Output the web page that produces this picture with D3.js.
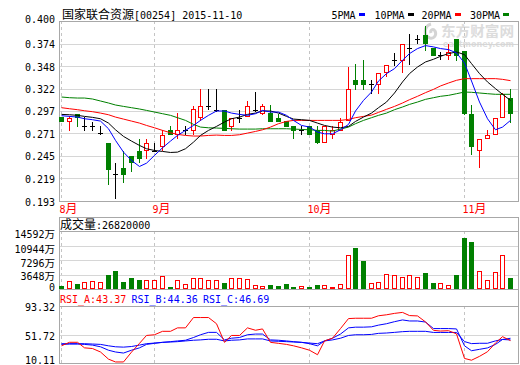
<!DOCTYPE html>
<html><head><meta charset="utf-8">
<script src="https://cdn.jsdelivr.net/npm/d3@7/dist/d3.min.js"></script>
<style>
html,body{margin:0;padding:0;background:#fff;}
svg{display:block;}
text{font-family:"DejaVu Sans Mono",monospace;font-size:10px;}
tspan.cjk{font-family:"Noto Sans CJK SC";font-size:12px;}
tspan.cjks{font-family:"Noto Sans CJK SC";font-size:10.5px;}
</style></head><body>
<svg id="chart" width="520" height="365"></svg>
<script>
// ---------------- data ----------------
const titleName = "国家联合资源[00254] 2015-11-10";
const monthIdx = [0, 12, 32, 52];
const monthLabels = ["8月", "9月", "10月", "11月"];

const open = [0.2894,0.2852,0.2929,0.2798,0.2798,0.2709,0.2599,0.2241,0.2314,0.2449,
0.2510,0.2518,0.2510,0.2564,0.2741,0.2698,0.2741,0.2749,0.2894,0.3025,
0.2980,0.2980,0.2795,0.2887,0.2902,0.2980,0.2940,0.2940,0.2887,0.2848,
0.2787,0.2749,0.2787,0.2741,0.2608,0.2702,0.2749,0.2864,0.3317,0.3317,
0.3279,0.3279,0.3413,0.3556,0.3556,0.3694,0.3798,0.3836,0.3694,0.3605,
0.3609,0.3790,0.3651,0.2933,0.2518,0.2656,0.2702,0.2894,0.3118];
const high = [0.2900,0.2910,0.2929,0.2894,0.2844,0.2798,0.2599,0.2372,0.2510,0.2449,
0.2645,0.2645,0.2599,0.2741,0.2798,0.2940,0.2787,0.3017,0.3221,0.3221,
0.3221,0.2980,0.2887,0.2980,0.3075,0.3182,0.3040,0.3029,0.2925,0.2848,
0.2787,0.2795,0.2787,0.2795,0.2795,0.2795,0.2887,0.3471,0.3510,0.3548,
0.3317,0.3406,0.3498,0.3636,0.3740,0.3847,0.3836,0.3940,0.3694,0.3644,
0.3740,0.3790,0.3651,0.3029,0.2645,0.2741,0.2887,0.3171,0.3221];
const low = [0.2848,0.2749,0.2795,0.2749,0.2749,0.2702,0.2121,0.1960,0.2144,0.2271,
0.2375,0.2421,0.2510,0.2518,0.2698,0.2656,0.2702,0.2702,0.2856,0.2991,
0.2970,0.2749,0.2749,0.2844,0.2902,0.2970,0.2933,0.2848,0.2848,0.2795,
0.2656,0.2702,0.2702,0.2594,0.2608,0.2656,0.2749,0.2864,0.3221,0.3221,
0.3171,0.3171,0.3367,0.3498,0.3413,0.3510,0.3748,0.3663,0.3609,0.3565,
0.3565,0.3548,0.2933,0.2472,0.2318,0.2656,0.2702,0.2894,0.2836];
const close = [0.2848,0.2887,0.2894,0.2798,0.2798,0.2709,0.2294,0.2241,0.2237,0.2375,
0.2421,0.2599,0.2510,0.2694,0.2698,0.2741,0.2741,0.2983,0.3025,0.3025,
0.2980,0.2749,0.2887,0.2887,0.3025,0.2980,0.3025,0.2848,0.2848,0.2795,
0.2749,0.2749,0.2702,0.2608,0.2795,0.2741,0.2844,0.3221,0.3279,0.3279,
0.3279,0.3406,0.3498,0.3556,0.3740,0.3694,0.3798,0.3748,0.3609,0.3605,
0.3644,0.3609,0.2940,0.2560,0.2645,0.2694,0.2887,0.3156,0.2940];

// volume in 万 shares, and whether the bar is drawn as an up (red) bar
const volume = [838,2013,1342,1677,2013,1677,3606,4529,1845,2851,
2264,2264,2348,3355,587,2180,1342,2768,2768,2264,
2264,1594,2683,2683,2516,1090,755,1090,838,1258,
503,755,587,1006,1006,503,1174,8554,10400,7045,
1510,1677,3690,3522,3103,3522,3103,4110,1510,1510,
1006,3522,12916,11825,4529,2264,4193,8554,2682];
const volUp = [0,1,0,1,1,1,0,0,0,0, 0,1,1,1,0,1,1,1,1,1,
1,0,1,1,1,1,1,0,0,0, 0,1,0,0,1,1,1,1,0,0,
1,1,1,1,1,1,1,0,0,1, 1,0,0,0,1,1,1,1,0];

const ma5 = [0.2911,0.2903,0.2895,0.2876,0.2865,0.2849,0.2761,0.2627,0.2492,0.2396,
0.2327,0.2365,0.2454,0.2542,0.2619,0.2684,0.2742,0.2799,0.2857,0.2915,
0.2965,0.2965,0.2941,0.2926,0.2915,0.2934,0.2972,0.2953,0.2953,0.2915,
0.2857,0.2799,0.2780,0.2723,0.2703,0.2703,0.2749,0.2811,0.2965,0.3087,
0.3183,0.3310,0.3395,0.3452,0.3548,0.3625,0.3683,0.3717,0.3702,0.3683,
0.3671,0.3633,0.3517,0.3310,0.3068,0.2876,0.2749,0.2780,0.2857];
const ma10 = [0.2926,0.2922,0.2915,0.2903,0.2892,0.2876,0.2826,0.2749,0.2673,0.2619,
0.2569,0.2531,0.2511,0.2500,0.2488,0.2492,0.2531,0.2607,0.2684,0.2742,
0.2788,0.2838,0.2876,0.2895,0.2926,0.2941,0.2965,0.2965,0.2941,0.2903,
0.2872,0.2865,0.2857,0.2826,0.2799,0.2780,0.2772,0.2788,0.2845,0.2895,
0.2941,0.3003,0.3068,0.3172,0.3299,0.3395,0.3471,0.3529,0.3560,0.3594,
0.3625,0.3644,0.3613,0.3510,0.3395,0.3299,0.3222,0.3157,0.3087];
const ma20 = [0.3003,0.2991,0.2980,0.2968,0.2957,0.2941,0.2922,0.2895,0.2872,0.2849,
0.2826,0.2799,0.2772,0.2742,0.2715,0.2696,0.2684,0.2677,0.2677,0.2684,
0.2688,0.2684,0.2684,0.2692,0.2711,0.2730,0.2749,0.2780,0.2819,0.2845,
0.2857,0.2857,0.2857,0.2857,0.2857,0.2857,0.2857,0.2868,0.2888,0.2903,
0.2918,0.2949,0.2984,0.3018,0.3057,0.3095,0.3134,0.3176,0.3214,0.3253,
0.3287,0.3318,0.3337,0.3337,0.3337,0.3337,0.3337,0.3329,0.3314];
const ma30 = [0.3126,0.3118,0.3114,0.3114,0.3103,0.3080,0.3057,0.3034,0.3018,0.3003,
0.2988,0.2972,0.2953,0.2934,0.2915,0.2888,0.2857,0.2811,0.2780,0.2772,
0.2769,0.2765,0.2761,0.2757,0.2757,0.2757,0.2761,0.2761,0.2761,0.2761,
0.2757,0.2753,0.2749,0.2742,0.2742,0.2734,0.2757,0.2780,0.2819,0.2857,
0.2888,0.2915,0.2941,0.2980,0.3011,0.3041,0.3068,0.3099,0.3118,0.3134,
0.3145,0.3164,0.3183,0.3180,0.3172,0.3164,0.3157,0.3157,0.3157];

const rsiA = [36.0,41.0,41.0,33.1,32.1,27.2,17.0,13.0,13.0,27.0,
39.5,50.7,51.7,56.6,56.6,61.5,61.5,76.2,76.2,76.2,
67.4,40.9,50.7,50.7,61.5,58.1,60.0,40.9,39.5,38.0,
36.0,33.1,29.7,23.3,42.9,46.8,60.5,74.7,75.2,75.2,
75.2,78.7,80.1,82.1,83.5,79.0,78.5,70.0,58.0,57.0,
57.5,53.0,18.0,15.5,21.0,27.6,40.0,49.0,43.37];
const rsiB = [38.0,38.5,38.5,38.0,37.0,34.6,29.7,27.2,25.7,29.7,
33.1,38.0,39.5,40.9,41.9,42.9,43.9,47.8,51.7,55.1,
55.1,44.4,46.8,47.8,51.7,52.7,52.7,44.4,43.9,42.9,
41.9,40.9,39.0,36.0,42.9,46.8,52.7,61.5,62.5,62.5,
63.0,65.4,67.4,70.3,72.8,71.3,71.3,69.8,60.5,60.5,
60.5,60.0,36.0,29.0,31.0,33.0,38.0,45.0,44.36];
const rsiC = [39.0,39.0,39.0,39.0,38.5,38.0,36.0,34.6,34.1,35.0,
37.0,39.0,39.9,40.9,41.4,41.9,42.9,43.9,44.4,45.3,
45.3,42.9,43.9,44.4,45.8,45.8,45.8,42.9,42.4,41.9,
41.4,40.9,39.9,39.0,42.9,44.4,46.8,50.7,51.7,51.7,
52.2,53.7,54.2,55.1,56.1,56.6,56.6,56.6,55.0,55.0,
55.0,55.0,42.0,39.1,39.6,39.6,43.0,45.0,46.69];

const priceTicks = ["0.400","0.374","0.348","0.322","0.297","0.271","0.245","0.219","0.193"];
const volTicks = [14592, 10944, 7296, 3648, 0];
const volTickLabels = ["14592万","10944万","7296万","3648万","0"];
const rsiTicks = ["93.32","51.72","10.11"];
const legendNames = ["5PMA","10PMA","20PMA","30PMA"];
const volTitle = "成交量:26820000";
const rsiTitles = ["RSI_A:43.37","RSI_B:44.36","RSI_C:46.69"];

// ---------------- drawing ----------------
const C = {red:"#ff0000", green:"#008000", blue:"#0000ff", black:"#000000",
           frame:"#a8a8a8", grid:"#d6d6d6", dash:"#c4c4c4"};
const maColors = [C.blue, C.black, C.red, C.green];
const svg = d3.select("#chart");
const L = 59, R = 518;
const mainTop = 21, mainBot = 201;
const volFrameTop = 217, volTop = 231, volBot = 289;
const rsiTop = 305.5, rsiBot = 364;

const x = d3.scaleLinear().domain([0, open.length - 1]).range([61.2, 510]);
const px = i => Math.round(x(i));
const yP = d3.scaleLinear().domain([0.193, 0.400]).range([mainBot, mainTop]);
const yV = d3.scaleLinear().domain([0, 14592]).range([volBot, volTop]);
const yR = d3.scaleLinear().domain([10.11, 93.32]).range([rsiBot, rsiTop]);
const crisp = v => Math.round(v) + 0.5;

function fillRuns(t, str, cls) {
  str.match(/[\u3000-\u9fff]+|[^\u3000-\u9fff]+/g).forEach(r => {
    const tp = t.append("tspan").text(r);
    if (/[\u3000-\u9fff]/.test(r)) tp.attr("class", cls || "cjk");
  });
}
function mixedText(sel, str, xx, yy, anchor, fill) {
  const t = sel.append("text").attr("x", xx).attr("y", yy)
    .attr("text-anchor", anchor).attr("fill", fill);
  fillRuns(t, str);
  return t;
}

// watermark
const wm = svg.append("g").attr("fill", "#dcdcdc");
wm.append("path").attr("d", "M431,24 C424,26 423,36 430,38 C434,39 437,35 435,31 C433,28 430,30 431,33")
  .attr("fill", "none").attr("stroke", "#d4d4d4").attr("stroke-width", 3);
wm.append("text").attr("x", 441).attr("y", 36)
  .style("font-family", "Noto Sans CJK SC").style("font-size", "14px").style("font-weight", "bold")
  .attr("textLength", 73).attr("lengthAdjust", "spacingAndGlyphs")
  .text("东方财富网");
wm.append("text").attr("x", 443).attr("y", 47)
  .style("font-family", "DejaVu Sans").style("font-size", "8px").style("font-weight", "bold")
  .attr("textLength", 71).attr("lengthAdjust", "spacingAndGlyphs")
  .text("eastmoney.com");

// title & legend
mixedText(svg, titleName, 62, 18.5, "start", "#000");
const legendX = [331.5, 374.5, 421.5, 470];
legendNames.forEach((n, k) => {
  svg.append("text").attr("x", legendX[k]).attr("y", 18.5).attr("fill", "#000").text(n);
  const w = n.length * 6.02;
  svg.append("rect").attr("x", Math.round(legendX[k] + w + 3)).attr("y", 13)
    .attr("width", 6).attr("height", 3).attr("fill", maColors[k]);
});

// ---------- grids ----------
const gridG = svg.append("g").attr("shape-rendering", "crispEdges");
gridG.selectAll("line.pg").data(priceTicks.slice(1, -1)).join("line")
  .attr("x1", L).attr("x2", R).attr("y1", d => crisp(yP(+d))).attr("y2", d => crisp(yP(+d)))
  .attr("stroke", C.grid);
[[mainTop, mainBot], [volTop, volBot], [rsiTop, rsiBot]].forEach(([a, b]) => {
  gridG.selectAll(null).data(monthIdx).join("line")
    .attr("x1", i => px(i) + 0.5).attr("x2", i => px(i) + 0.5)
    .attr("y1", a).attr("y2", b)
    .attr("stroke", C.dash).attr("stroke-dasharray", "3,3");
});
gridG.selectAll(null).data(volTicks.slice(1, -1)).join("line")
  .attr("x1", L).attr("x2", R).attr("y1", d => crisp(yV(d))).attr("y2", d => crisp(yV(d)))
  .attr("stroke", C.grid);
gridG.append("line").attr("x1", L).attr("x2", R).attr("y1", crisp(yV(14592))).attr("y2", crisp(yV(14592)))
  .attr("stroke", C.frame);
gridG.append("line").attr("x1", L).attr("x2", R).attr("y1", crisp(yR(51.72))).attr("y2", crisp(yR(51.72)))
  .attr("stroke", C.grid);
gridG.append("line").attr("x1", L).attr("x2", R).attr("y1", crisp(yR(93.32))).attr("y2", crisp(yR(93.32)))
  .attr("stroke", C.frame);

// frames
const fr = svg.append("g").attr("fill", "none").attr("stroke", C.frame).attr("shape-rendering", "crispEdges");
fr.append("rect").attr("x", L + 0.5).attr("y", mainTop + 0.5).attr("width", R - L).attr("height", mainBot - mainTop);
fr.append("rect").attr("x", L + 0.5).attr("y", volFrameTop + 0.5).attr("width", R - L).attr("height", volBot - volFrameTop);
fr.append("rect").attr("x", L + 0.5).attr("y", volBot + 0.5).attr("width", R - L).attr("height", rsiBot - volBot - 1);

// ---------- candles ----------
const idx = d3.range(open.length);
const cg = svg.append("g").attr("shape-rendering", "crispEdges");
idx.forEach(i => {
  const o = open[i], c = close[i];
  const col = c > o ? C.red : (c < o ? C.green : C.black);
  const cx = px(i);
  cg.append("line").attr("x1", cx + 0.5).attr("x2", cx + 0.5)
    .attr("y1", Math.round(yP(high[i]))).attr("y2", Math.round(yP(low[i])) + 1)
    .attr("stroke", col);
  const top = Math.round(yP(Math.max(o, c))), bot = Math.round(yP(Math.min(o, c)));
  if (c > o) {
    cg.append("rect").attr("x", cx - 1.5).attr("y", top + 0.5)
      .attr("width", 4).attr("height", Math.max(1, bot - top))
      .attr("fill", "#fff").attr("stroke", col);
  } else if (c < o) {
    cg.append("rect").attr("x", cx - 2).attr("y", top)
      .attr("width", 5).attr("height", Math.max(1, bot - top + 1)).attr("fill", col);
  } else {
    cg.append("line").attr("x1", cx - 2).attr("x2", cx + 3)
      .attr("y1", top + 0.5).attr("y2", top + 0.5).attr("stroke", col);
  }
});

// moving averages
svg.append("clipPath").attr("id", "clipMain").append("rect")
  .attr("x", L + 1).attr("y", mainTop + 1).attr("width", R - L - 1).attr("height", mainBot - mainTop - 1);
const maLine = d3.line().x((d, i) => px(i) + 0.5).y(d => yP(d));
const maG = svg.append("g").attr("clip-path", "url(#clipMain)");
[[ma30, C.green], [ma20, C.red], [ma10, C.black], [ma5, C.blue]].forEach(([arr, col]) => {
  maG.append("path").attr("d", maLine(arr)).attr("fill", "none")
    .attr("stroke", col).attr("stroke-width", 1);
});

// price axis labels
const pAxis = svg.append("g").attr("transform", `translate(55,0)`)
  .call(d3.axisLeft(yP).tickValues(priceTicks.map(Number)).tickFormat((d, i) => priceTicks[i]).tickSize(0).tickPadding(0));
pAxis.select(".domain").remove();
pAxis.selectAll("text").attr("font-family", "DejaVu Sans Mono").attr("font-size", 10)
  .attr("fill", "#000").attr("dy", (d, i) => i === 0 ? "1" : "4");

// month labels
monthIdx.forEach((mi, k) => mixedText(svg, monthLabels[k], px(mi) - 1.5, 212.5, "start", C.red));

// ---------- volume panel ----------
mixedText(svg, volTitle, 60, 229, "start", "#000");
const vg = svg.append("g").attr("shape-rendering", "crispEdges");
idx.forEach(i => {
  const cx = px(i);
  const top = Math.round(yV(volume[i]));
  if (volUp[i]) {
    vg.append("rect").attr("x", cx - 1.5).attr("y", top + 0.5).attr("width", 4)
      .attr("height", Math.max(1, volBot - top - 1)).attr("fill", "#fff").attr("stroke", C.red);
  } else {
    vg.append("rect").attr("x", cx - 2).attr("y", top).attr("width", 5)
      .attr("height", volBot - top).attr("fill", C.green);
  }
});
const vAxis = svg.append("g").attr("transform", `translate(55,0)`)
  .call(d3.axisLeft(yV).tickValues(volTicks).tickFormat((d, i) => volTickLabels[i]).tickSize(0).tickPadding(0));
vAxis.select(".domain").remove();
vAxis.selectAll("text").each(function(d, i) {
  const t = d3.select(this);
  t.text(null).attr("font-family", "DejaVu Sans Mono").attr("font-size", 10).attr("fill", "#000")
   .attr("dy", d === 0 ? "1.5" : (d === 3648 ? "5" : "6.5"));
  fillRuns(t, volTickLabels[i], "cjks");
});

// ---------- RSI panel ----------
const rsiTitleX = [60, 131.5, 203];
rsiTitles.forEach((s, k) => svg.append("text").attr("x", rsiTitleX[k]).attr("y", 303)
  .attr("fill", k === 0 ? C.red : C.blue).text(s));
svg.append("clipPath").attr("id", "clipRsi").append("rect")
  .attr("x", L + 1).attr("y", rsiTop).attr("width", R - L - 1).attr("height", rsiBot - rsiTop);
const rLine = d3.line().x((d, i) => px(i) + 0.5).y(d => yR(d));
const rg = svg.append("g").attr("clip-path", "url(#clipRsi)");
[[rsiC, C.blue], [rsiB, C.blue], [rsiA, C.red]].forEach(([arr, col]) => {
  rg.append("path").attr("d", rLine(arr)).attr("fill", "none").attr("stroke", col).attr("stroke-width", 1);
});
const rAxis = svg.append("g").attr("transform", `translate(55,0)`)
  .call(d3.axisLeft(yR).tickValues(rsiTicks.map(Number)).tickFormat((d, i) => rsiTicks[i]).tickSize(0).tickPadding(0));
rAxis.select(".domain").remove();
rAxis.selectAll("text").attr("font-family", "DejaVu Sans Mono").attr("font-size", 10).attr("fill", "#000")
  .attr("dy", (d, i) => i === 2 ? "-0.5" : "4.5");
</script>
</body></html>
